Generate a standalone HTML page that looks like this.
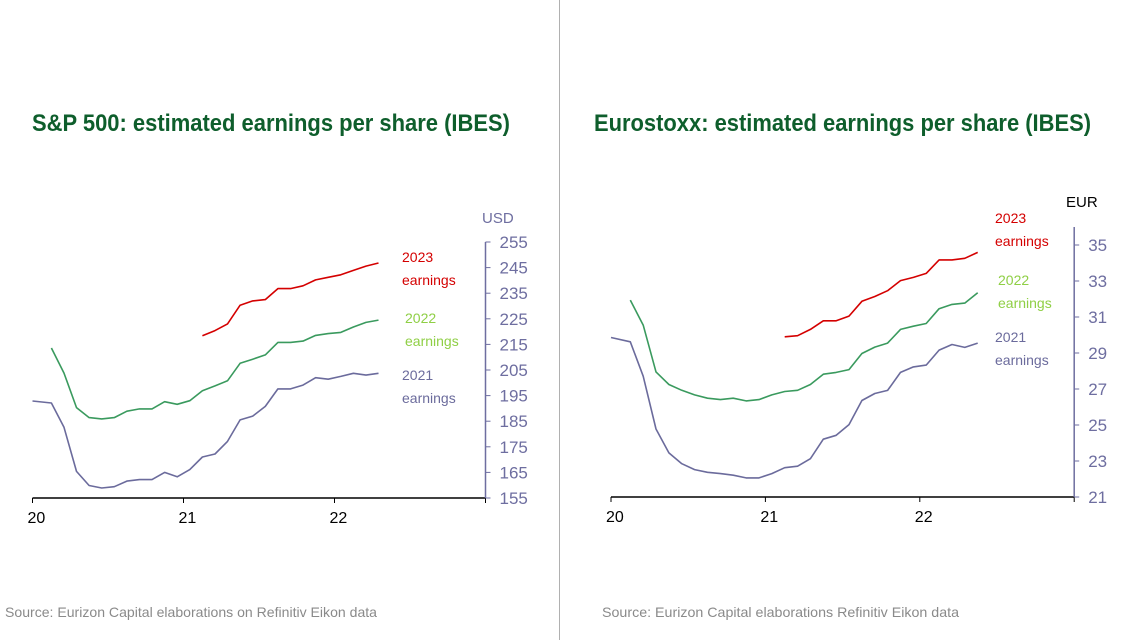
<!DOCTYPE html>
<html><head><meta charset="utf-8"><style>
html,body{margin:0;padding:0;background:#fff;}
svg{display:block;font-family:"Liberation Sans",Arial,sans-serif;}
</style></head><body>
<svg id="root" width="1126" height="640" viewBox="0 0 1126 640">
<line x1="559.5" y1="0" x2="559.5" y2="640" stroke="#b0b0b0" stroke-width="1"/>
<text x="32" y="131" font-size="24" font-weight="bold" fill="#0e5e2c" textLength="478" lengthAdjust="spacingAndGlyphs">S&amp;P 500: estimated earnings per share (IBES)</text>
<text x="594" y="131" font-size="24" font-weight="bold" fill="#0e5e2c" textLength="497" lengthAdjust="spacingAndGlyphs">Eurostoxx: estimated earnings per share (IBES)</text>
<text x="5" y="617" font-size="14" fill="#8a8a8a" textLength="372" lengthAdjust="spacingAndGlyphs">Source: Eurizon Capital elaborations on Refinitiv Eikon data</text>
<text x="602" y="617" font-size="14" fill="#8a8a8a" textLength="357" lengthAdjust="spacingAndGlyphs">Source: Eurizon Capital elaborations Refinitiv  Eikon data</text>
<g id="left"></g>
<g id="right"></g>
</svg>
<script>
// ---- S&P 500 data (month index from Jan 2020) ----
const spMonths2021 = [0,1.5,2.5,3.5,4.5,5.5,6.5,7.5,8.5,9.5,10.5,11.5,12.5,13.5,14.5,15.5,16.5,17.5,18.5,19.5,20.5,21.5,22.5,23.5,24.5,25.5,26.5,27.5];
const spEps2021 = [192.9,192.1,182.6,165.4,159.9,158.9,159.4,161.6,162.2,162.2,165,163.3,166.1,171,172.2,177.1,185.5,187,190.8,197.6,197.6,199.1,202,201.4,202.5,203.7,203,203.7];
const spMonths2022 = [1.5,2.5,3.5,4.5,5.5,6.5,7.5,8.5,9.5,10.5,11.5,12.5,13.5,14.5,15.5,16.5,17.5,18.5,19.5,20.5,21.5,22.5,23.5,24.5,25.5,26.5,27.5];
const spEps2022 = [213.6,203.8,190.3,186.4,185.9,186.4,188.9,189.8,189.8,192.6,191.6,193,196.9,198.8,200.8,207.6,209.2,210.9,215.8,215.8,216.3,218.5,219.2,219.7,221.8,223.6,224.5];
const spMonths2023 = [13.5,14.5,15.5,16.5,17.5,18.5,19.5,20.5,21.5,22.5,23.5,24.5,25.5,26.5,27.5];
const spEps2023 = [218.4,220.4,223,230.3,232,232.5,236.8,236.8,237.9,240.2,241.2,242.2,243.9,245.6,246.8];
const spYTicks = [155,165,175,185,195,205,215,225,235,245,255];
const spXLabels = ["20","21","22"];
// ---- Eurostoxx data ----
const esMonths2021 = [0,1.5,2.5,3.5,4.5,5.5,6.5,7.5,8.5,9.5,10.5,11.5,12.5,13.5,14.5,15.5,16.5,17.5,18.5,19.5,20.5,21.5,22.5,23.5,24.5,25.5,26.5,27.5,28.5];
const esEps2021 = [29.86,29.62,27.71,24.78,23.45,22.85,22.52,22.37,22.30,22.21,22.06,22.06,22.30,22.63,22.71,23.13,24.21,24.43,25.02,26.36,26.75,26.92,27.92,28.23,28.33,29.16,29.47,29.31,29.55];
const esMonths2022 = [1.5,2.5,3.5,4.5,5.5,6.5,7.5,8.5,9.5,10.5,11.5,12.5,13.5,14.5,15.5,16.5,17.5,18.5,19.5,20.5,21.5,22.5,23.5,24.5,25.5,26.5,27.5,28.5];
const esEps2022 = [31.94,30.55,27.95,27.25,26.93,26.67,26.49,26.41,26.49,26.34,26.41,26.67,26.86,26.93,27.25,27.82,27.92,28.08,28.97,29.33,29.55,30.31,30.49,30.64,31.46,31.70,31.77,32.35];
const esMonths2023 = [13.5,14.5,15.5,16.5,17.5,18.5,19.5,20.5,21.5,22.5,23.5,24.5,25.5,26.5,27.5,28.5];
const esEps2023 = [29.90,29.96,30.31,30.79,30.79,31.05,31.87,32.14,32.46,33.02,33.20,33.42,34.17,34.17,34.26,34.59];
const esYTicks = [21,23,25,27,29,31,33,35];
const esXLabels = ["20","21","22"];

const NS = "http://www.w3.org/2000/svg";
const AX = "#6e6ea0";
function mk(parent, tag, attrs, text){
  const e = document.createElementNS(NS, tag);
  for (const k in attrs) e.setAttribute(k, attrs[k]);
  if (text !== undefined) e.textContent = text;
  parent.appendChild(e);
  return e;
}
function drawChart(g, cfg){
  const xs = m => cfg.x0 + m * cfg.yearW / 12;
  const ys = v => cfg.yBot - (v - cfg.vMin) / (cfg.vMax - cfg.vMin) * (cfg.yBot - cfg.yTopVal);
  // x axis
  const xa = mk(g, "line", {x1: cfg.x0, y1: cfg.yBot, x2: cfg.x0 + 3*cfg.yearW, y2: cfg.yBot, stroke: "#000", "stroke-width": 1.5});
  
  
  for (let i = 0; i < 4; i++) {
    const tx = cfg.x0 + i*cfg.yearW;
    const t = mk(g, "line", {x1: tx, y1: cfg.yBot, x2: tx, y2: cfg.yBot + 5, stroke: "#000", "stroke-width": 1});
    
    
    if (i < cfg.xLabels.length) {
      const l = mk(g, "text", {x: tx - 5, y: cfg.yBot + 25, "font-size": 16, fill: "#000"}, cfg.xLabels[i]);
      
      
    }
  }
  // y axis
  const yx = cfg.x0 + 3*cfg.yearW;
  const ya = mk(g, "line", {x1: yx, y1: cfg.axisTop, x2: yx, y2: cfg.yBot, stroke: AX, "stroke-width": 1.5});
  
  
  cfg.yTicks.forEach(v => {
    const y = ys(v);
    const t = mk(g, "line", {x1: yx, y1: y, x2: yx + 5, y2: y, stroke: AX, "stroke-width": 1});
    
    
    const l = mk(g, "text", {x: yx + 14, y: y + 6, "font-size": 17, fill: AX}, String(v));
    
    
  });
  const u = mk(g, "text", {x: cfg.unitX, y: cfg.unitY, "font-size": 15, fill: cfg.unitColor}, cfg.unit);
  
  
  // series
  cfg.series.forEach(s => {
    const pts = s.m.map((m, i) => xs(m).toFixed(1) + "," + ys(s.v[i]).toFixed(1)).join(" ");
    const p = mk(g, "polyline", {points: pts, fill: "none", stroke: s.color, "stroke-width": 1.6, "stroke-linejoin": "round"});
    
    
    const l1 = mk(g, "text", {x: s.lx, y: s.ly, "font-size": 14, fill: s.labelColor}, s.name);
    
    
    const l2 = mk(g, "text", {x: s.lx, y: s.ly + 23, "font-size": 14, fill: s.labelColor}, "earnings");
    
    
  });
}
drawChart(document.getElementById("left"), {
  x0: 32.5, yearW: 151, yBot: 498, yTopVal: 242, vMin: 155, vMax: 255, axisTop: 242,
  yTicks: spYTicks, xLabels: spXLabels, unit: "USD", unitX: 482, unitY: 223, unitColor: AX,
  series: [
    {name: "2021", m: spMonths2021, v: spEps2021, color: "#6b6b9c", labelColor: "#6b6b9c", lx: 402, ly: 380},
    {name: "2022", m: spMonths2022, v: spEps2022, color: "#3a9a5e", labelColor: "#8fcf45", lx: 405, ly: 323},
    {name: "2023", m: spMonths2023, v: spEps2023, color: "#d40000", labelColor: "#d40000", lx: 402, ly: 262}
  ]
});
drawChart(document.getElementById("right"), {
  x0: 611, yearW: 154.4, yBot: 497, yTopVal: 245, vMin: 21, vMax: 35, axisTop: 227,
  yTicks: esYTicks, xLabels: esXLabels, unit: "EUR", unitX: 1066, unitY: 207, unitColor: "#000",
  series: [
    {name: "2021", m: esMonths2021, v: esEps2021, color: "#6b6b9c", labelColor: "#6b6b9c", lx: 995, ly: 342},
    {name: "2022", m: esMonths2022, v: esEps2022, color: "#3a9a5e", labelColor: "#8fcf45", lx: 998, ly: 285},
    {name: "2023", m: esMonths2023, v: esEps2023, color: "#d40000", labelColor: "#d40000", lx: 995, ly: 223}
  ]
});
</script>
</body></html>
